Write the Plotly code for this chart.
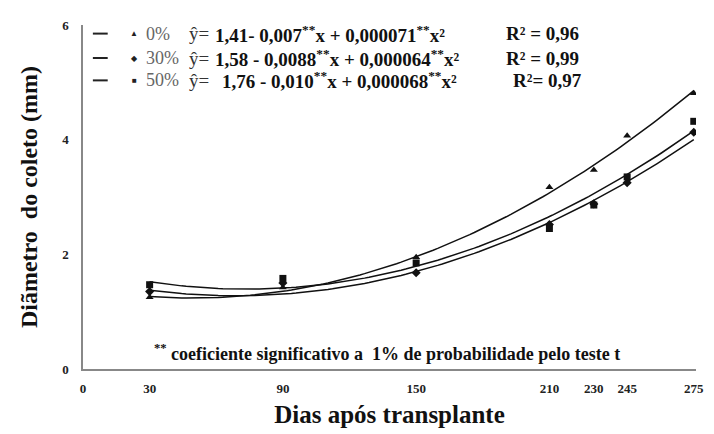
import numpy as np
import plotly.graph_objects as go

# ---- data ----
days = [30, 90, 150, 210, 230, 245, 275]
obs_0 = [1.25, 1.42, 1.95, 3.17, 3.47, 4.07, 4.81]
obs_30 = [1.35, 1.50, 1.68, 2.52, 2.88, 3.25, 4.13]
obs_50 = [1.47, 1.58, 1.85, 2.45, 2.86, 3.35, 4.32]

# regression coefficients printed on the chart (b0, b1, b2)
coef_0 = [1.41, -0.007, 0.000071]
coef_30 = [1.58, -0.0088, 0.000064]
coef_50 = [1.76, -0.010, 0.000068]

x_ticks = [0, 30, 90, 150, 210, 230, 245, 275]
y_ticks = [0, 2, 4, 6]

series_names = ["0%", "30%", "50%"]
symbols = ["triangle-up", "diamond", "square"]
symbol_chars = ["▲", "◆", "■"]
equations = [
    "1,41- 0,007<sup>**</sup>x + 0,000071<sup>**</sup>x²",
    "1,58 - 0,0088<sup>**</sup>x + 0,000064<sup>**</sup>x²",
    "1,76 - 0,010<sup>**</sup>x + 0,000068<sup>**</sup>x²",
]
r2_labels = ["R² = 0,96", "R² = 0,99", "R²= 0,97"]

SERIF = "Liberation Serif, 'Times New Roman', Times, serif"

fig = go.Figure()

xfit = np.linspace(min(days), max(days), 120)
for coef, obs, sym in zip([coef_0, coef_30, coef_50], [obs_0, obs_30, obs_50], symbols):
    yfit = coef[0] + coef[1] * xfit + coef[2] * xfit ** 2
    fig.add_trace(go.Scatter(x=xfit, y=yfit, mode="lines",
                             line=dict(color="#111", width=1.5),
                             showlegend=False, hoverinfo="skip"))
    fig.add_trace(go.Scatter(x=days, y=obs, mode="markers",
                             marker=dict(symbol=sym, size=7, color="#111"),
                             showlegend=False))

# legend-like block (paper coordinates)
row_y = [0.975, 0.904, 0.839]
eq_x = [0.2126, 0.2126, 0.2236]
r2_x = [0.6876, 0.6876, 0.699]
annotations = []
shapes = []
for i in range(3):
    shapes.append(dict(type="line", xref="paper", yref="paper",
                       x0=0.0161, x1=0.0403, y0=row_y[i], y1=row_y[i],
                       line=dict(color="#222", width=2)))
    annotations.append(dict(xref="paper", yref="paper", x=0.0837, y=row_y[i],
                            text=symbol_chars[i], showarrow=False,
                            xanchor="center", yanchor="middle",
                            font=dict(family=SERIF, size=8, color="#222")))
    annotations.append(dict(xref="paper", yref="paper", x=0.0998, y=row_y[i],
                            text=series_names[i], showarrow=False,
                            xanchor="left", yanchor="middle",
                            font=dict(family=SERIF, size=18, color="#666")))
    annotations.append(dict(xref="paper", yref="paper", x=0.2093, y=row_y[i],
                            text="ŷ=", showarrow=False,
                            xanchor="right", yanchor="middle",
                            font=dict(family=SERIF, size=19, color="#333")))
    annotations.append(dict(xref="paper", yref="paper", x=eq_x[i], y=row_y[i],
                            text="<b>" + equations[i] + "</b>", showarrow=False,
                            xanchor="left", yanchor="middle",
                            font=dict(family=SERIF, size=19, color="#111")))
    annotations.append(dict(xref="paper", yref="paper", x=r2_x[i], y=row_y[i],
                            text="<b>" + r2_labels[i] + "</b>", showarrow=False,
                            xanchor="left", yanchor="middle",
                            font=dict(family=SERIF, size=19, color="#111")))

annotations.append(dict(xref="paper", yref="paper", x=0.496, y=0.048,
                        text="<b><sup>**</sup> coeficiente significativo a  1% de probabilidade pelo teste t</b>",
                        showarrow=False, xanchor="center", yanchor="middle",
                        font=dict(family=SERIF, size=18, color="#111")))

# page body has an 8px default margin, so the figure is offset by 8px
fig.update_layout(
    width=706, height=426,
    margin=dict(l=75, r=10, t=10, b=62),
    paper_bgcolor="white", plot_bgcolor="white",
    shapes=shapes, annotations=annotations,
    xaxis=dict(range=[0, 276], tickvals=x_ticks, ticktext=[str(v) for v in x_ticks],
               showgrid=False, zeroline=False, showline=True,
               linecolor="#888", linewidth=1.5, ticks="outside", ticklen=7,
               tickcolor="rgba(0,0,0,0)",
               tickfont=dict(family=SERIF, size=13, color="#222", weight="bold"),
               title=dict(text="<b>Dias após transplante</b>", standoff=10,
                          font=dict(family=SERIF, size=25, color="#111"))),
    yaxis=dict(range=[0, 6], tickvals=y_ticks, ticktext=[str(v) for v in y_ticks],
               showgrid=False, zeroline=False, showline=True,
               linecolor="#888", linewidth=1.5, ticks="outside", ticklen=10,
               tickcolor="rgba(0,0,0,0)",
               tickfont=dict(family=SERIF, size=13, color="#222", weight="bold"),
               title=dict(text="<b>Diãmetro  do coleto (mm)</b>", standoff=18,
                          font=dict(family=SERIF, size=24, color="#111"))),
)

fig.write_html("out.html")
